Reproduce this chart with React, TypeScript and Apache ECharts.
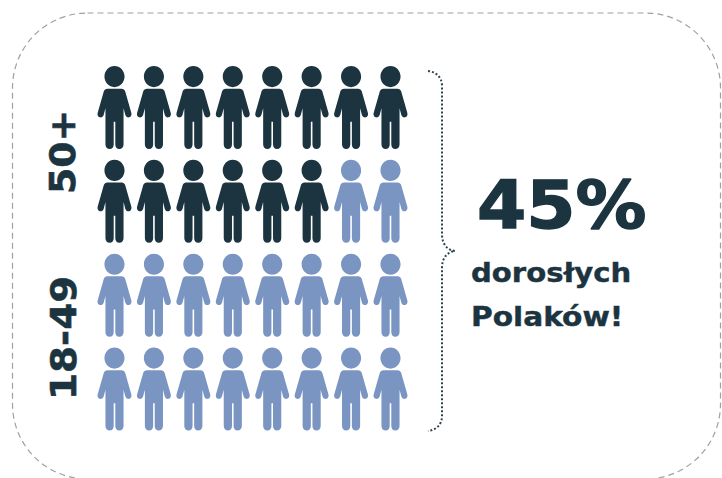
import React, { useEffect, useRef } from "react";
import * as echarts from "echarts";

const columns = [0, 1, 2, 3, 4, 5, 6, 7];
// 1 = aged 50+, 0 = aged 18-49; one list for each row of figures, top to bottom
const row1 = [1, 1, 1, 1, 1, 1, 1, 1];
const row2 = [1, 1, 1, 1, 1, 1, 0, 0];
const row3 = [0, 0, 0, 0, 0, 0, 0, 0];
const row4 = [0, 0, 0, 0, 0, 0, 0, 0];
const rows = [row1, row2, row3, row4];
const ageLabels = ["50+", "18-49"];
const headline = "45%";
const captionLines = ["dorosłych", "Polaków!"];

const DARK = "#1b3440";
const LIGHT = "#7a95c2";
const FONT = "'DejaVu Sans', sans-serif";

const PERSON =
  "path://M17 0C22.5 0 27 4.7 27 10.5C27 16.3 22.5 21 17 21C11.5 21 7 16.3 7 10.5C7 4.7 11.5 0 17 0Z" +
  "M10 22.5L24 22.5C25.8 22.5 27 23.4 27.6 25L33.7 46.4C34.3 48.4 33.6 50.4 31.7 51C29.9 51.5 28.5 50.5 27.8 48.8L26 42L26 78C26 80.6 24.3 82.5 21.8 82.5C19.3 82.5 17.8 80.6 17.8 78L17.8 55.5L16.2 55.5L16.2 78C16.2 80.6 14.7 82.5 12.2 82.5C9.7 82.5 8 80.6 8 78L8 42L6.2 48.8C5.5 50.5 4.1 51.5 2.3 51C0.4 50.4 -0.3 48.4 0.3 46.4L6.4 25C7 23.4 8.2 22.5 10 22.5Z";

const BRACE =
  "M428 71C436 72 442 77 442 86L442 234C442 244 447 250 455 251C447 252 442 258 442 268L442 416C442 425 436 430 428 431";

echarts.graphic.registerShape("brace", echarts.graphic.extendPath(BRACE, {}));

function points(flag: number) {
  const out: number[][] = [];
  rows.forEach((row, r) =>
    row.forEach((v, i) => {
      if (v === flag) out.push([columns[i], r]);
    })
  );
  return out;
}

export default function App() {
  const ref = useRef<HTMLDivElement>(null);
  useEffect(() => {
    document.body.style.margin = "0";
    const chart = echarts.init(ref.current!, null, { renderer: "svg" });
    const series = [
      { flag: 1, color: DARK },
      { flag: 0, color: LIGHT },
    ].map((s) => ({
      type: "scatter",
      data: points(s.flag),
      symbol: PERSON,
      symbolSize: [34, 83],
      symbolKeepAspect: false,
      itemStyle: { color: s.color, opacity: 1 },
      silent: true,
    }));
    const text = (t: string, x: number, y: number, size: number, weight: number, extra: object = {}) => ({
      type: "text",
      x,
      y,
      silent: true,
      style: {
        text: t,
        fill: DARK,
        stroke: DARK,
        lineWidth: weight,
        font: `bold ${size}px ${FONT}`,
        textAlign: "left",
        verticalAlign: "middle",
      },
      ...extra,
    });
    chart.setOption({
      animation: false,
      backgroundColor: "#ffffff",
      grid: { left: 114.5, right: 331.5, top: 107.5, bottom: 89 },
      xAxis: { type: "value", min: 0, max: 7, show: false },
      yAxis: { type: "value", min: 0, max: 3, inverse: true, show: false },
      series,
      graphic: [
        {
          type: "rect",
          silent: true,
          shape: { x: 12.5, y: 13, width: 708, height: 466, r: 75 },
          style: { fill: "none", stroke: "#a0a0a0", lineWidth: 1.2, lineDash: [6, 4] },
        },
        {
          type: "brace",
          silent: true,
          style: { fill: "none", stroke: "#2f4450", lineWidth: 2, lineDash: [2, 2] },
        },
        text(ageLabels[0], 63, 194, 35, 0.6, { rotation: Math.PI / 2, scaleX: 1.08 }),
        text(ageLabels[1], 64, 400, 35, 0.6, { rotation: Math.PI / 2, scaleX: 1.11 }),
        text(headline, 477, 206, 65, 1.4, { scaleX: 1.09 }),
        text(captionLines[0], 471, 273, 26, 0.4, { scaleX: 1.12 }),
        text(captionLines[1], 471, 317, 26, 0.4, { scaleX: 1.14 }),
      ],
    });
    return () => chart.dispose();
  }, []);
  return <div ref={ref} style={{ width: 722, height: 478 }} />;
}
